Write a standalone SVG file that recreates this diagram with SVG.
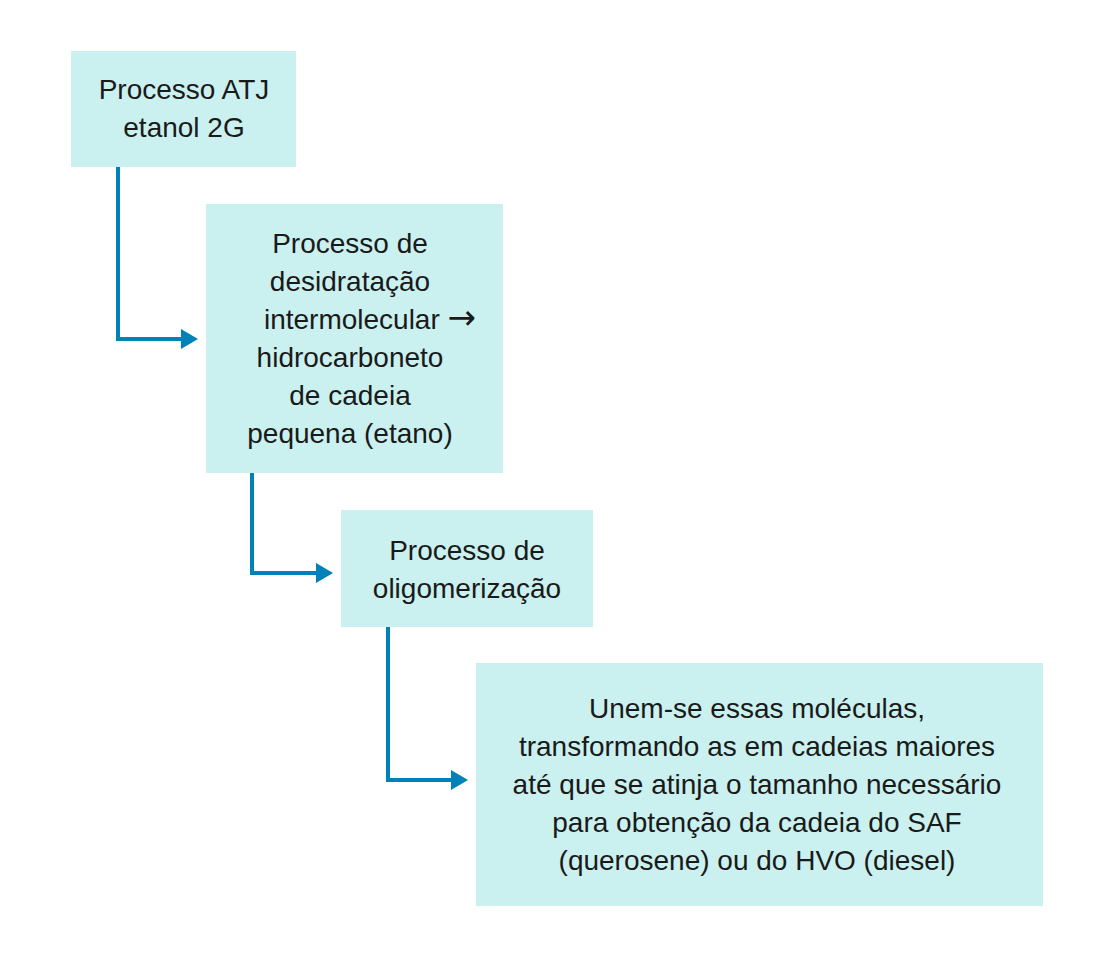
<svg xmlns="http://www.w3.org/2000/svg" width="1115" height="978" viewBox="0 0 1115 978">
<style>
.box{fill:#caf1ef}
.t{font-family:"Liberation Sans",Arial,sans-serif;font-size:28px;fill:#1a1a1a;text-anchor:middle}
.arr{font-family:"DejaVu Sans",sans-serif;font-size:34px}
.c{fill:none;stroke:#0081b8;stroke-width:4}
.ah{fill:#0081b8}
</style>
<rect width="1115" height="978" fill="#ffffff"/>
<g id="connectors">
<polyline class="c" points="118,167 118,339 183,339"/>
<polygon class="ah" points="181,329 198,339 181,349"/>
<polyline class="c" points="252,473 252,573 318,573"/>
<polygon class="ah" points="316,563 333,573 316,583"/>
<polyline class="c" points="388,627 388,780 453,780"/>
<polygon class="ah" points="451,770 468,780 451,790"/>
</g>
<g id="node1">
<rect class="box" x="71" y="51" width="225" height="116"/>
<text class="t" x="184" y="99">Processo ATJ</text>
<text class="t" x="184" y="137">etanol 2G</text>
</g>
<g id="node2">
<rect class="box" x="206" y="204" width="297" height="269"/>
<text class="t" x="350" y="253">Processo de</text>
<text class="t" x="350" y="291">desidratação</text>
<text class="t" x="370" y="329">intermolecular <tspan class="arr">→</tspan></text>
<text class="t" x="350" y="367">hidrocarboneto</text>
<text class="t" x="350" y="405">de cadeia</text>
<text class="t" x="350" y="443">pequena (etano)</text>
</g>
<g id="node3">
<rect class="box" x="341" y="510" width="252" height="117"/>
<text class="t" x="467" y="560">Processo de</text>
<text class="t" x="467" y="598">oligomerização</text>
</g>
<g id="node4">
<rect class="box" x="476" y="663" width="567" height="243"/>
<text class="t" x="757" y="718">Unem-se essas moléculas,</text>
<text class="t" x="757" y="756">transformando as em cadeias maiores</text>
<text class="t" x="757" y="794">até que se atinja o tamanho necessário</text>
<text class="t" x="757" y="832">para obtenção da cadeia do SAF</text>
<text class="t" x="757" y="870">(querosene) ou do HVO (diesel)</text>
</g>
</svg>
